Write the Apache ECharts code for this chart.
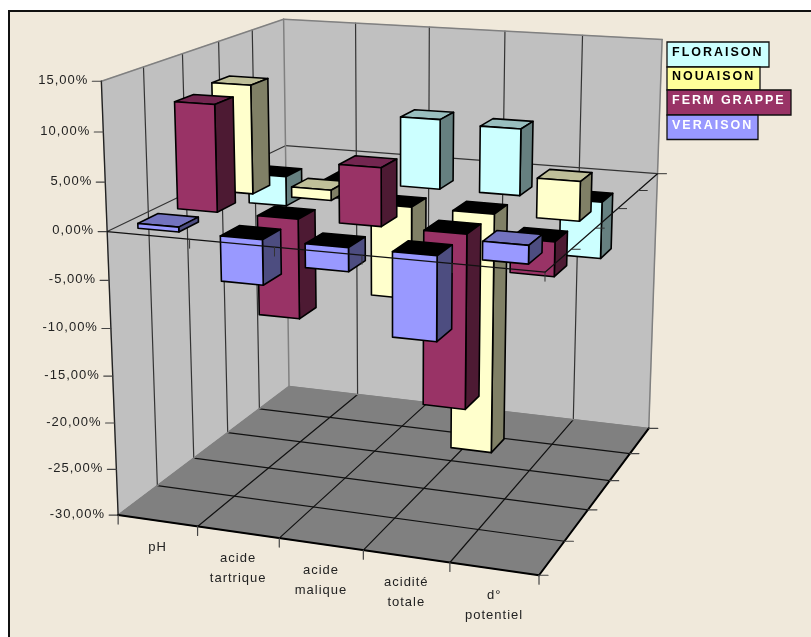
<!DOCTYPE html>
<html>
<head>
<meta charset="utf-8">
<style>html,body{margin:0;padding:0;background:#fff}#chart{width:811px;height:637px}</style>
<script src="https://cdn.jsdelivr.net/npm/echarts@6/dist/echarts.min.js"></script>
</head>
<body>
<div id="chart"></div>
<script>
// Per cent variation by parameter and by sampling stage.
const categories = ['pH', 'acide\ntartrique', 'acide\nmalique', 'acidité\ntotale', 'd°\npotentiel'];
const floraison = [-3.3, -1.9, 7.6, 7.2, -6.1];
const nouaison = [11.7, 1.1, -9.9, -25.9, 4.1];
const fermGrappe = [11.2, -10.5, 6.0, -18.2, -3.5];
const veraison = [0.5, -4.6, -2.4, -8.5, 1.8];
const valueTicks = [15, 10, 5, 0, -5, -10, -15, -20, -25, -30];

// Stages from the back of the box to the front, with their depth slot.
const stages = [
  { name: 'FLORAISON', values: floraison, slot: 3, front: '#CCFFFF', side: '#668080', top: '#99BFBF', key: '#CCFFFF', ink: '#000' },
  { name: 'NOUAISON', values: nouaison, slot: 2, front: '#FFFFCC', side: '#808066', top: '#BFBF99', key: '#FFFF99', ink: '#000' },
  { name: 'FERM GRAPPE', values: fermGrappe, slot: 1, front: '#993366', side: '#4D1A33', top: '#732650', key: '#993366', ink: '#fff' },
  { name: 'VERAISON', values: veraison, slot: 0, front: '#9999FF', side: '#4D4D80', top: '#7373BF', key: '#9999FF', ink: '#fff' }
];

const DEPTH_SLOTS = 5;
const CELL_FILL = 0.5;
const FONT = '"Liberation Sans", Arial, sans-serif';

// Tracked lettering: regular text 1px, bold key text 2px.
const nativeFillText = CanvasRenderingContext2D.prototype.fillText;
CanvasRenderingContext2D.prototype.fillText = function (text, x, y, maxWidth) {
  this.letterSpacing = /bold/.test(this.font) ? '2px' : '1px';
  if (maxWidth === undefined) nativeFillText.call(this, text, x, y);
  else nativeFillText.call(this, text, x, y, maxWidth);
};

// Camera calibration: unit box position (across, depth, height) -> page position.
const cameraAnchors = [
  [0, 0, 0, 118, 515], [1, 0, 0, 540, 575], [1, 1, 0, 649, 428], [0, 1, 0, 290, 387],
  [0, 0, 1, 102, 81], [0, 1, 1, 284, 19], [1, 1, 1, 662, 40],
  [0, 0, 2 / 3, 107, 232], [1, 0, 2 / 3, 545, 272], [1, 1, 2 / 3, 658, 173], [0, 1, 2 / 3, 285, 145],
  [.2, 0, 0, 197, 526], [.4, 0, 0, 279, 538], [.6, 0, 0, 363, 550], [.8, 0, 0, 451, 562],
  [1, .2, 0, 565, 542], [1, .4, 0, 587, 510], [1, .6, 0, 609, 481], [1, .8, 0, 629, 454],
  [0, .2, 1, 143, 67], [0, .4, 1, 182, 54], [0, .6, 1, 219, 42], [0, .8, 1, 252, 30]
];

// Least-squares fit of a 3x4 projective camera through the anchors.
function fitCamera(anchors) {
  const n = 11;
  const A = Array.from({ length: n }, () => new Array(n + 1).fill(0));
  const add = (row, rhs) => {
    for (let i = 0; i < n; i++) {
      for (let j = 0; j < n; j++) A[i][j] += row[i] * row[j];
      A[i][n] += row[i] * rhs;
    }
  };
  anchors.forEach(([u, v, w, x, y]) => {
    add([u, v, w, 1, 0, 0, 0, 0, -x * u, -x * v, -x * w], x);
    add([0, 0, 0, 0, u, v, w, 1, -y * u, -y * v, -y * w], y);
  });
  for (let c = 0; c < n; c++) {
    let p = c;
    for (let r = c + 1; r < n; r++) if (Math.abs(A[r][c]) > Math.abs(A[p][c])) p = r;
    [A[c], A[p]] = [A[p], A[c]];
    for (let r = 0; r < n; r++) {
      if (r === c) continue;
      const f = A[r][c] / A[c][c];
      for (let k = c; k <= n; k++) A[r][k] -= f * A[c][k];
    }
  }
  return A.map((row, i) => row[n] / row[i]);
}
const cam = fitCamera(cameraAnchors);
function project(u, v, w) {
  const d = cam[8] * u + cam[9] * v + cam[10] * w + 1;
  return [
    (cam[0] * u + cam[1] * v + cam[2] * w + cam[3]) / d,
    (cam[4] * u + cam[5] * v + cam[6] * w + cam[7]) / d
  ];
}

// Reads the library's axis scales as box fractions.
function toBox(api, params, category, value) {
  const cs = params.coordSys;
  const p = api.coord([category, value]);
  return { u: (p[0] - cs.x) / cs.width, w: (cs.y + cs.height - p[1]) / cs.height };
}

const seg = (a, b, stroke, lineWidth) => ({
  type: 'line', shape: { x1: a[0], y1: a[1], x2: b[0], y2: b[1] },
  style: { stroke, lineWidth: lineWidth || 1, lineCap: 'round' }
});
const poly = (points, fill, stroke, lineWidth) => ({
  type: 'polygon', shape: { points },
  style: { fill, stroke: stroke || fill, lineWidth: lineWidth === undefined ? 1 : lineWidth, lineJoin: 'round' }
});
const label = (text, x, y, align, verticalAlign, extra) => ({
  type: 'text', x, y,
  style: Object.assign({ text, x: 0, y: 0, align, verticalAlign, fill: '#222', font: '13px ' + FONT }, extra || {})
});

const legendLayout = { x: 667, widths: [102, 93, 124, 91], tops: [42, 67, 90, 115], bottoms: [67, 90, 115, 139.5] };

function renderFrame(params, api) {
  const kids = [];
  const zero = toBox(api, params, 0, 0).w;
  const bottom = toBox(api, params, 0, -30).w;
  const ceil = toBox(api, params, 0, 15).w;

  // Sheet and its border.
  kids.push({ type: 'rect', shape: { x: 9, y: 11, width: 840, height: 660 }, style: { fill: '#F0E9DB', stroke: '#111', lineWidth: 2 } });

  // Walls and floor.
  kids.push(poly([project(0, 0, bottom), project(0, 1, bottom), project(0, 1, ceil), project(0, 0, ceil)], '#C0C0C0'));
  kids.push(poly([project(0, 1, bottom), project(1, 1, bottom), project(1, 1, ceil), project(0, 1, ceil)], '#C0C0C0'));
  kids.push(poly([project(0, 0, bottom), project(1, 0, bottom), project(1, 1, bottom), project(0, 1, bottom)], '#808080'));

  // Grid lines at every division of both ground directions.
  for (let k = 1; k < DEPTH_SLOTS; k++) {
    const f = k / DEPTH_SLOTS;
    kids.push(seg(project(0, f, bottom), project(0, f, ceil), '#333', 1.2));
    kids.push(seg(project(f, 1, bottom), project(f, 1, ceil), '#333', 1.2));
    kids.push(seg(project(0, f, bottom), project(1, f, bottom), '#111', 1.2));
    kids.push(seg(project(f, 0, bottom), project(f, 1, bottom), '#111', 1.2));
  }

  // Zero level along the two walls.
  kids.push(seg(project(0, 0, zero), project(0, 1, zero), '#333', 1.2));
  kids.push(seg(project(0, 1, zero), project(1, 1, zero), '#333', 1.2));

  // Wall rims.
  const rim = '#808080';
  kids.push(seg(project(0, 0, ceil), project(0, 1, ceil), rim, 1.5));
  kids.push(seg(project(0, 1, ceil), project(1, 1, ceil), rim, 1.5));
  kids.push(seg(project(1, 1, ceil), project(1, 1, bottom), rim, 1.5));
  kids.push(seg(project(0, 1, ceil), project(0, 1, bottom), rim, 1.5));
  kids.push(seg(project(0, 0, bottom), project(0, 1, bottom), rim, 1.5));
  kids.push(seg(project(0, 1, bottom), project(1, 1, bottom), rim, 1.5));

  // Value axis with ticks and labels.
  kids.push(seg(project(0, 0, ceil), project(0, 0, bottom), '#222', 1.4));
  valueTicks.forEach(t => {
    const p = project(0, 0, toBox(api, params, 0, t).w);
    kids.push(seg([p[0] - 9, p[1]], p, '#444', 1.2));
    kids.push(label(t.toFixed(2).replace('.', ',') + '%', p[0] - 13, p[1] - 1, 'right', 'middle'));
  });

  // Ground axes with ticks.
  kids.push(seg(project(0, 0, bottom), project(1, 0, bottom), '#000', 2));
  kids.push(seg(project(1, 0, bottom), project(1, 1, bottom), '#000', 2));
  for (let k = 0; k <= DEPTH_SLOTS; k++) {
    const a = project(k / DEPTH_SLOTS, 0, bottom);
    kids.push(seg(a, [a[0], a[1] + 9], '#444', 1.2));
    const b = project(1, k / DEPTH_SLOTS, bottom);
    kids.push(seg(b, [b[0] + 9, b[1]], '#444', 1.2));
  }

  // Category labels under the floor.
  categories.forEach((c, i) => {
    const b = toBox(api, params, i, 0);
    const p = project(b.u, 0, bottom);
    kids.push(label(c, p[0], p[1] + 16.5, 'center', 'top', { lineHeight: 20 }));
  });

  // Stage key.
  stages.forEach((s, i) => {
    const L = legendLayout;
    kids.push({
      type: 'rect',
      shape: { x: L.x, y: L.tops[i], width: L.widths[i], height: L.bottoms[i] - L.tops[i] },
      style: { fill: s.key, stroke: '#111', lineWidth: 1.3 }
    });
    kids.push(label(s.name, L.x + 5, (L.tops[i] + L.bottoms[i]) / 2 - 1.5, 'left', 'middle',
      { fill: s.ink, font: 'bold 12.5px ' + FONT }));
  });
  return { type: 'group', children: kids };
}

function barRenderer(stage) {
  return function (params, api) {
    const i = api.value(0);
    const val = api.value(1);
    const base = toBox(api, params, i, 0);
    const tip = toBox(api, params, i, val);
    const half = CELL_FILL / 2 / categories.length;
    const u0 = base.u - half, u1 = base.u + half;
    const v0 = (stage.slot + (1 - CELL_FILL) / 2) / DEPTH_SLOTS;
    const v1 = (stage.slot + (1 + CELL_FILL) / 2) / DEPTH_SLOTS;
    const hi = Math.max(base.w, tip.w), lo = Math.min(base.w, tip.w);
    const ink = '#000';
    return {
      type: 'group',
      children: [
        poly([project(u0, v0, hi), project(u1, v0, hi), project(u1, v1, hi), project(u0, v1, hi)],
          val < 0 ? '#000' : stage.top, ink, 1.6),
        poly([project(u1, v0, lo), project(u1, v1, lo), project(u1, v1, hi), project(u1, v0, hi)], stage.side, ink, 1.6),
        poly([project(u0, v0, lo), project(u1, v0, lo), project(u1, v0, hi), project(u0, v0, hi)], stage.front, ink, 1.6)
      ]
    };
  };
}

// Zero-level axes sit above the bars.
function renderZeroAxes(params, api) {
  const zero = toBox(api, params, 0, 0).w;
  const kids = [
    seg(project(0, 0, zero), project(1, 0, zero), '#111', 1.2),
    seg(project(1, 0, zero), project(1, 1, zero), '#111', 1.2)
  ];
  for (let k = 1; k <= DEPTH_SLOTS; k++) {
    const a = project(k / DEPTH_SLOTS, 0, zero);
    kids.push(seg(a, [a[0], a[1] + 9], '#333'));
    const b = project(1, k / DEPTH_SLOTS, zero);
    kids.push(seg(b, [b[0] + 9, b[1]], '#333'));
  }
  return { type: 'group', children: kids };
}

const custom = (name, data, renderItem) => ({
  type: 'custom', name, coordinateSystem: 'cartesian2d', clip: false, silent: true,
  data, renderItem, encode: { x: 0, y: 1 }
});

const chart = echarts.init(document.getElementById('chart'), null, { renderer: 'canvas' });
chart.setOption({
  animation: false,
  backgroundColor: '#ffffff',
  grid: { left: 0, right: 0, top: 0, bottom: 0 },
  xAxis: { type: 'category', data: categories, show: false },
  yAxis: { type: 'value', min: -30, max: 15, interval: 5, show: false },
  series: [
    custom('cadre', [[0, 0]], renderFrame),
    ...stages.map(s => custom(s.name, s.values.map((v, i) => [i, v]), barRenderer(s))),
    custom('axes zéro', [[0, 0]], renderZeroAxes)
  ]
});
</script>
</body>
</html>
